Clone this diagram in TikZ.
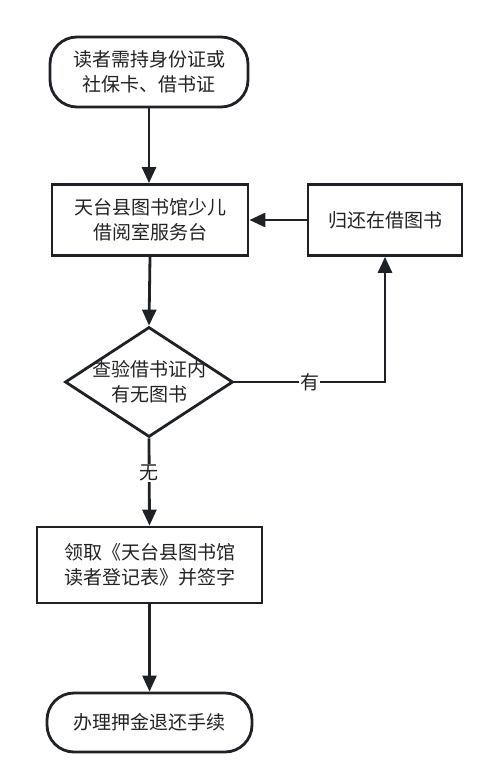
\documentclass[tikz,border=0pt]{standalone}
\usepackage{fontspec}
\setmainfont{Noto Sans CJK SC}
\usetikzlibrary{shapes.geometric,arrows.meta}
\definecolor{ln}{HTML}{1E2226}
\definecolor{tx}{HTML}{222222}
\begin{document}
\begin{tikzpicture}[x=1pt,y=-1pt,
  every node/.style={font=\fontsize{19pt}{25pt}\selectfont, text=tx, align=center},
  box/.style={draw=ln, line width=2.8pt, rectangle, inner sep=0pt},
  term/.style={draw=ln, line width=2.8pt, rectangle, rounded corners=27pt, inner sep=0pt},
  conn/.style={draw=ln, line width=2.8pt, -{Triangle[length=16pt,width=14pt]}},
  lbl/.style={fill=white, inner sep=1pt}]
\useasboundingbox (0,0) rectangle (500,775);
\node[term, minimum width=198pt, minimum height=70pt] (start) at (149,72) {读者需持身份证或\\社保卡、借书证};
\node[box, minimum width=196pt, minimum height=71pt] (desk) at (150,220) {天台县图书馆少儿\\借阅室服务台};
\node[box, minimum width=154pt, minimum height=71pt] (ret) at (385,220) {归还在借图书};
\node[draw=ln, line width=2.8pt, diamond, minimum width=168pt, minimum height=110pt, inner sep=0pt] (dec) at (149,382) {};
\node (dectext) at (dec.center) {查验借书证内\\有无图书};
\node[box, minimum width=225pt, minimum height=76pt] (form) at (149.5,565) {领取《天台县图书馆\\读者登记表》并签字};
\node[term, minimum width=205pt, minimum height=59pt] (end) at (149.5,722.5) {办理押金退还手续};
\draw[conn] (start.south) -- (start.south |- desk.north);
\draw[conn] (ret.west) -- (desk.east);
\draw[conn] (desk.south) -- (dec.north);
\coordinate (corner) at (ret.south |- dec.east);
\draw[conn] (dec.east) -- node[lbl, pos=0.5] {有} (corner) -- (ret.south);
\draw[conn] (dec.south) -- node[lbl, pos=0.4] {无} (form.north);
\draw[conn] (form.south) -- (end.north);
\end{tikzpicture}
\end{document}
